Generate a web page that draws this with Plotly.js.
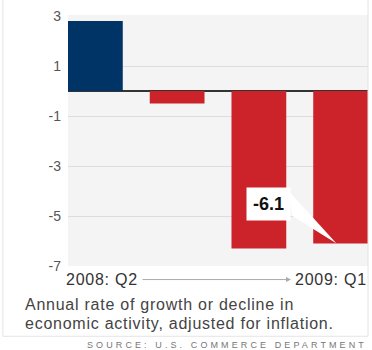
<!DOCTYPE html>
<html><head><meta charset="utf-8">
<script src="https://cdn.plot.ly/plotly-3.0.1.min.js"></script>
<style>
html,body{margin:0;padding:0;background:#fff;}
#chart{width:372px;height:350px;}
.annotation[data-index="1"] text,
.annotation[data-index="2"] text,
.annotation[data-index="4"] text,
.annotation[data-index="5"] text{letter-spacing:0.75px;}
.annotation[data-index="6"] text{letter-spacing:3.1px;}
</style>
</head><body><div id="chart"></div>
<script>
var quarters = ["2008: Q2", "2008: Q3", "2008: Q4", "2009: Q1"];
var growth = [2.8, -0.5, -6.3, -6.1];
var barColors = ["#003366", "#cc2229", "#cc2229", "#cc2229"];
var yTicks = [3, 1, -1, -3, -5, -7];
var calloutText = "-6.1";
var captionLines = ["Annual rate of growth or decline in", "economic activity, adjusted for inflation."];
var sourceText = "SOURCE: U.S. COMMERCE DEPARTMENT";

var trace = {
  type: "bar",
  x: [0, 1, 2, 3],
  y: growth,
  marker: {color: barColors, line: {width: 0}},
  hoverinfo: "skip"
};

var font = "Liberation Sans, Arial, sans-serif";
var layout = {
  width: 372, height: 350,
  margin: {l: 68, r: 4, t: 14.5, b: 83.5},
  paper_bgcolor: "#ffffff",
  plot_bgcolor: "#f4f4f4",
  showlegend: false,
  bargap: 0.33,
  xaxis: {
    range: [-0.335, 3.335], showticklabels: false, showgrid: false,
    zeroline: false, ticks: "", fixedrange: true
  },
  yaxis: {
    range: [-7, 3.04], tickvals: yTicks, ticktext: yTicks.map(String),
    showgrid: true, gridcolor: "#dddddd", gridwidth: 1,
    zeroline: true, zerolinecolor: "#333333", zerolinewidth: 1.5,
    ticks: "", ticklen: 0, ticklabelstandoff: 6,
    tickfont: {family: font, size: 14, color: "#555555"},
    fixedrange: true
  },
  shapes: [
    {type: "path", xref: "x", yref: "y", layer: "above",
     path: "M 2.36,-3.98 L 2.95,-6.1 L 2.41,-5.0 Z",
     fillcolor: "#ffffff", line: {width: 0}},
    {type: "line", xref: "paper", yref: "paper", x0: -0.217, x1: -0.217, y0: -0.28, y1: 1.06,
     line: {color: "#e4e4e4", width: 1}},
    {type: "line", xref: "paper", yref: "paper", x0: -0.217, x1: 1.0, y0: -0.28, y1: -0.28,
     line: {color: "#e4e4e4", width: 1}},
    {type: "line", xref: "paper", yref: "paper", x0: 1.0, x1: 1.0, y0: -0.28, y1: 1.06,
     line: {color: "#e4e4e4", width: 1}}
  ],
  annotations: [
    {xref: "x", yref: "y", x: 2.12, y: -4.5, text: "<b>" + calloutText + "</b>", showarrow: false,
     bgcolor: "#ffffff", borderpad: 6, font: {family: font, size: 18, color: "#111111"}},
    {xref: "paper", yref: "paper", x: -0.012, y: -0.054, xanchor: "left", yanchor: "middle", align: "left",
     text: quarters[0], showarrow: false, font: {family: font, size: 16, color: "#333333"}},
    {xref: "paper", yref: "paper", x: 1.004, y: -0.054, xanchor: "right", yanchor: "middle", align: "right",
     text: quarters[3], showarrow: false, font: {family: font, size: 16, color: "#333333"}},
    {xref: "paper", yref: "paper", x: 0.7433, y: -0.054, axref: "pixel", ayref: "pixel", ax: -150, ay: 0,
     text: "", showarrow: true, arrowhead: 2, arrowsize: 1, arrowwidth: 1, arrowcolor: "#aaaaaa"},
    {xref: "paper", yref: "paper", x: -0.15, y: -0.153, xanchor: "left", yanchor: "middle", align: "left",
     text: captionLines[0], showarrow: false,
     font: {family: font, size: 16, color: "#444444"}},
    {xref: "paper", yref: "paper", x: -0.15, y: -0.228, xanchor: "left", yanchor: "middle", align: "left",
     text: captionLines[1], showarrow: false,
     font: {family: font, size: 16, color: "#444444"}},
    {xref: "paper", yref: "paper", x: 0.055, y: -0.315, xanchor: "left", yanchor: "middle", align: "left",
     text: sourceText, showarrow: false, font: {family: font, size: 9, color: "#777777"}}
  ]
};

Plotly.newPlot("chart", [trace], layout, {displayModeBar: false, staticPlot: true});
</script>
</body></html>
